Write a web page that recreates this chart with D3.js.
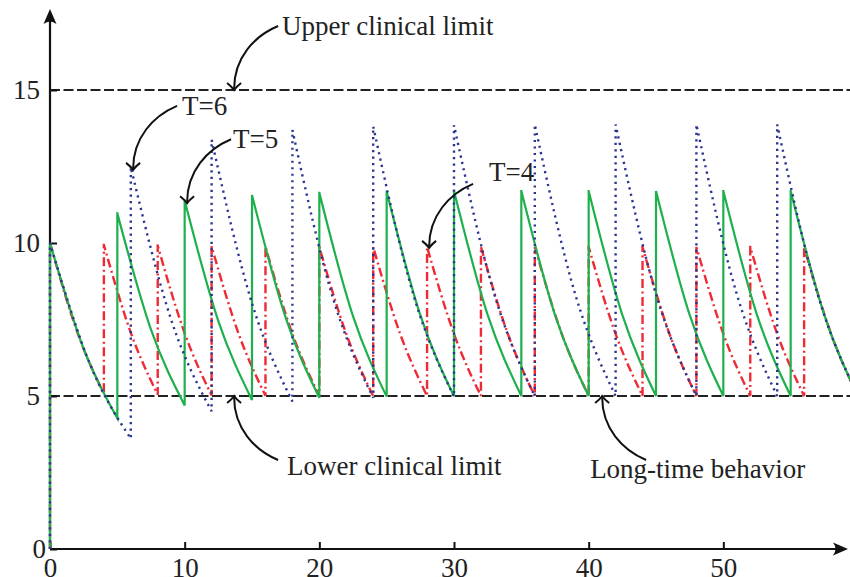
<!DOCTYPE html>
<html>
<head>
<meta charset="utf-8">
<script src="https://cdn.jsdelivr.net/npm/d3@7"></script>
<style>
  body { margin: 0; background: #fff; }
  svg { display: block; }
  text { font-family: "Liberation Serif", "Times New Roman", serif; fill: #222; }
</style>
</head>
<body>
<svg width="850" height="577"></svg>
<script>
// dose times, and concentration right after each dose / half way / just before the next dose
var doseTimes4 = [0, 4, 8, 12, 16, 20, 24, 28, 32, 36, 40, 44, 48, 52, 56];
var peaks4 = [10, 9.94, 9.91, 9.89, 9.88, 9.87, 9.87, 9.87, 9.87, 9.87, 9.87, 9.87, 9.87, 9.87, 9.87];
var mids4 = [7.12, 7.07, 7.05, 7.04, 7.03, 7.03, 7.03, 7.03, 7.03, 7.03, 7.03, 7.03, 7.03, 7.03, 7.03];
var troughs4 = [5.07, 5.04, 5.02, 5.01, 5.0, 5.0, 5.0, 5.0, 5.0, 5.0, 5.0, 5.0, 5.0, 5.0, 5.0];

var doseTimes5 = [0, 5, 10, 15, 20, 25, 30, 35, 40, 45, 50, 55];
var peaks5 = [10, 10.97, 11.39, 11.57, 11.64, 11.68, 11.7, 11.7, 11.7, 11.7, 11.7, 11.7];
var mids5 = [6.54, 7.17, 7.45, 7.56, 7.61, 7.64, 7.65, 7.65, 7.65, 7.65, 7.65, 7.65];
var troughs5 = [4.27, 4.69, 4.87, 4.94, 4.98, 4.99, 5.0, 5.0, 5.0, 5.0, 5.0, 5.0];

var doseTimes6 = [0, 6, 12, 18, 24, 30, 36, 42, 48, 54];
var peaks6 = [10, 12.48, 13.37, 13.69, 13.81, 13.85, 13.87, 13.87, 13.87, 13.87];
var mids6 = [6.01, 7.49, 8.03, 8.22, 8.29, 8.32, 8.33, 8.33, 8.33, 8.33];
var troughs6 = [3.61, 4.5, 4.82, 4.94, 4.98, 4.99, 5.0, 5.0, 5.0, 5.0];

var periods = [4, 5, 6];
var clinicalLimits = [5, 15];
var xTicks = [0, 10, 20, 30, 40, 50];
var yTicks = [0, 5, 10, 15];
var noteLabels = ["Upper clinical limit", "T=6", "T=5", "T=4", "Lower clinical limit", "Long-time behavior"];
var noteTimes = [13.67, 6.17, 10.18, 28.15, 13.67, 41.0];
var noteValues = [15, 12.39, 11.3, 9.84, 5, 5];

var svg = d3.select("svg");
var width = +svg.attr("width");
var height = +svg.attr("height");

var x = d3.scaleLinear().domain([0, 60]).range([50, 858]);
var y = d3.scaleLinear().domain([0, 15]).range([549, 90]);

// clinical limits
svg.append("g")
    .selectAll("line")
    .data(clinicalLimits)
    .enter().append("line")
        .attr("x1", x(0))
        .attr("x2", width)
        .attr("y1", function(d) { return y(d); })
        .attr("y2", function(d) { return y(d); })
        .attr("stroke", "#222")
        .attr("stroke-width", 2)
        .attr("stroke-dasharray", "10,3.5");

// axes
var styleAxis = function(g) {
    g.attr("font-size", 27)
        .attr("font-family", "Liberation Serif")
        .attr("color", "#111");
    g.select(".domain").remove();
    g.selectAll(".tick line").attr("stroke-width", 2);
};

var xAxis = svg.append("g")
    .attr("transform", "translate(0," + y(0) + ")")
    .call(d3.axisBottom(x).tickValues(xTicks).tickSize(-7).tickPadding(9))
    .call(styleAxis);

var yAxis = svg.append("g")
    .attr("transform", "translate(" + x(0) + ",0)")
    .call(d3.axisLeft(y).tickValues(yTicks).tickSize(-7).tickPadding(10))
    .call(styleAxis);
yAxis.selectAll(".tick text").attr("x", function(d) { return d === 0 ? -4 : -10; });

var axisTipX = width - 2;
var axisTipY = 9;
svg.append("path")
    .attr("d", "M" + x(0) + "," + y(0) + "H" + (axisTipX - 8) + "M" + x(0) + "," + y(0) + "V" + (axisTipY + 8))
    .attr("fill", "none")
    .attr("stroke", "#111")
    .attr("stroke-width", 2.2);
svg.append("path")
    .attr("d", "M" + axisTipX + "," + y(0) + "L" + (axisTipX - 15) + "," + (y(0) - 6.5) +
        "Q" + (axisTipX - 10) + "," + y(0) + " " + (axisTipX - 15) + "," + (y(0) + 6.5) + "Z" +
        "M" + x(0) + "," + axisTipY + "L" + (x(0) - 6.5) + "," + (axisTipY + 15) +
        "Q" + x(0) + "," + (axisTipY + 10) + " " + (x(0) + 6.5) + "," + (axisTipY + 15) + "Z")
    .attr("fill", "#111");

// concentration curves
var cycleLine = d3.line()
    .x(function(d) { return x(d[0]); })
    .y(function(d) { return y(d[1]); })
    .curve(d3.curveMonotoneX);

var buildPath = function(times, peaks, mids, troughs, period) {
    var d = "M" + x(0) + "," + y(0);
    times.forEach(function(t, i) {
        d += "L" + x(t) + "," + y(peaks[i]);
        var seg = cycleLine([[t, peaks[i]], [t + period / 2, mids[i]], [t + period, troughs[i]]]);
        d += "L" + seg.slice(1);
    });
    return d;
};

var series = [
    { path: buildPath(doseTimes4, peaks4, mids4, troughs4, periods[0]), color: "#ee2a35", width: 2.4, dash: "9,3.5,2,3.5" },
    { path: buildPath(doseTimes5, peaks5, mids5, troughs5, periods[1]), color: "#1db04d", width: 2.2, dash: null },
    { path: buildPath(doseTimes6, peaks6, mids6, troughs6, periods[2]), color: "#2b3590", width: 2.4, dash: "2.2,4.3" }
];

svg.append("g")
    .selectAll("path")
    .data(series)
    .enter().append("path")
        .attr("d", function(d) { return d.path; })
        .attr("fill", "none")
        .attr("stroke", function(d) { return d.color; })
        .attr("stroke-width", function(d) { return d.width; })
        .attr("stroke-dasharray", function(d) { return d.dash; });

// annotations: curved arrows pointing at the curves
var noteLayout = [
    { dir: 1, label: [48, -55] },
    { dir: 1, label: [49, -55] },
    { dir: 1, label: [46, -55] },
    { dir: 1, label: [60, -67] },
    { dir: -1, label: [53, 79] },
    { dir: -1, label: [-12, 82] }
];

var notes = svg.append("g").attr("class", "notes");
noteLabels.forEach(function(text, i) {
    var ex = x(noteTimes[i]);
    var ey = y(noteValues[i]);
    var s = noteLayout[i].dir;
    var sx = ex + 44;
    var sy = ey - s * 64;
    notes.append("path")
        .attr("d", "M" + sx + "," + sy + "C" + (sx - 24) + "," + (sy + s * 10) + " " + ex + "," + (ey - s * 32) + " " + ex + "," + (ey - s * 1))
        .attr("fill", "none")
        .attr("stroke", "#111")
        .attr("stroke-width", 2);
    notes.append("path")
        .attr("d", "M" + (ex - 7) + "," + (ey - s * 7) + "Q" + (ex - 2) + "," + (ey - s * 3) + " " + ex + "," + ey +
            "Q" + (ex + 2) + "," + (ey - s * 3) + " " + (ex + 7) + "," + (ey - s * 7))
        .attr("fill", "none")
        .attr("stroke", "#111")
        .attr("stroke-width", 2);
    notes.append("text")
        .attr("x", ex + noteLayout[i].label[0])
        .attr("y", ey + noteLayout[i].label[1])
        .attr("font-size", 27)
        .text(text);
});
</script>
</body>
</html>
